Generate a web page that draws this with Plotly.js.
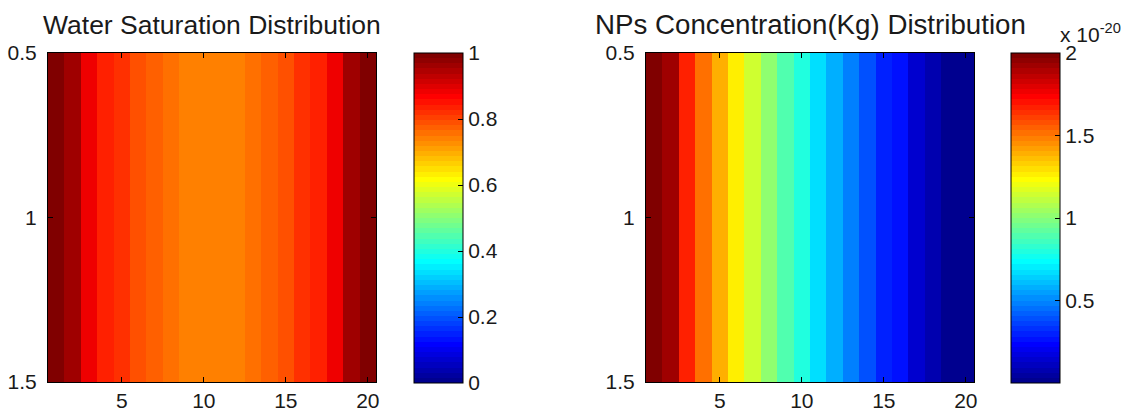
<!DOCTYPE html>
<html>
<head>
<meta charset="utf-8">
<script src="https://cdn.plot.ly/plotly-3.0.1.min.js"></script>
<style>html,body{margin:0;padding:0;background:#fff;}#chart{width:1138px;height:417px;}</style>
</head>
<body>
<div id="chart"></div>
<script>
// ---- data ----
var columns = [1,2,3,4,5,6,7,8,9,10,11,12,13,14,15,16,17,18,19,20];
var rows = [1];
var waterSaturation = [1.0, 0.96, 0.88, 0.835, 0.815, 0.79, 0.775, 0.76, 0.745, 0.745, 0.745, 0.745, 0.76, 0.775, 0.79, 0.815, 0.835, 0.88, 0.96, 1.0];
// NPs concentration in units of 1e-20 kg
var npsConcentration = [2.0, 1.92, 1.67, 1.53, 1.39, 1.265, 1.14, 1.016, 0.89, 0.797, 0.67, 0.58, 0.484, 0.39, 0.31, 0.25, 0.14, 0.078, 0.03, 0.005];
var xTicks = [5, 10, 15, 20];
var yTicks = [0.5, 1, 1.5];
var wsTicks = [0, 0.2, 0.4, 0.6, 0.8, 1];
var npTicks = [0.5, 1, 1.5, 2];
var titles = ['Water Saturation Distribution', 'NPs Concentration(Kg) Distribution'];
var exponentLabel = 'x 10<sup>-20</sup>';

// ---- MATLAB jet(64) colormap, discrete ----
function jet64() {
  var n = 64, m = 16, u = [];
  for (var i = 1; i <= m; i++) u.push(i / m);
  for (var i = 0; i < m - 1; i++) u.push(1);
  for (var i = m; i >= 1; i--) u.push(i / m);
  var g0 = 8, r = [], g = [], b = [];
  for (var k = 0; k < n; k++) { r.push(0); g.push(0); b.push(0); }
  for (var k = 0; k < u.length; k++) {
    var gi = g0 + k, ri = gi + m, bi = gi - m;
    if (gi >= 0 && gi < n) g[gi] = u[k];
    if (ri >= 0 && ri < n) r[ri] = u[k];
    if (bi >= 0 && bi < n) b[bi] = u[k];
  }
  var cs = [];
  for (var k = 0; k < n; k++) {
    var c = 'rgb(' + Math.round(r[k] * 255) + ',' + Math.round(g[k] * 255) + ',' + Math.round(b[k] * 255) + ')';
    cs.push([k / n, c]);
    cs.push([(k + 1) / n, c]);
  }
  return cs;
}
var jet = jet64();

var FONT = 'Liberation Sans, Arial, Helvetica, sans-serif';
var TXT = '#1a1a1a';
var W = 1138, H = 417;
function px(x) { return x / W; }
function py(y) { return 1 - y / H; }

var cbCommon = {
  thickness: 49, thicknessmode: 'pixels',
  len: (383 - 53) / H, lenmode: 'fraction',
  y: py(383), yanchor: 'bottom',
  xanchor: 'left', xpad: 0, ypad: 0,
  outlinewidth: 1, outlinecolor: '#000',
  ticks: 'inside', ticklen: 5, tickcolor: '#000',
  tickfont: {family: FONT, size: 21, color: TXT}
};

var trace1 = {
  type: 'heatmap', x: columns, y: rows, z: [waterSaturation],
  colorscale: jet, zmin: 0, zmax: 1, xaxis: 'x', yaxis: 'y',
  hoverinfo: 'z',
  colorbar: Object.assign({}, cbCommon, {x: px(414), tickvals: wsTicks, ticktext: wsTicks.map(String)})
};
var trace2 = {
  type: 'heatmap', x: columns, y: rows, z: [npsConcentration],
  colorscale: jet, zmin: 0, zmax: 2, xaxis: 'x2', yaxis: 'y2',
  hoverinfo: 'z',
  colorbar: Object.assign({}, cbCommon, {x: px(1011), tickvals: npTicks, ticktext: npTicks.map(String)})
};

function xax(dom, anchor) {
  return {
    domain: dom, anchor: anchor, range: [0.5, 20.5], tickvals: xTicks, ticktext: xTicks.map(String),
    ticks: 'inside', ticklen: 5, tickcolor: '#000', showline: true, linecolor: '#000', linewidth: 1,
    mirror: 'ticks', showgrid: false, zeroline: false, ticklabelstandoff: 0,
    tickfont: {family: FONT, size: 21, color: TXT}
  };
}
function yax(anchor) {
  return {
    domain: [py(382), py(53)], anchor: anchor, range: [1.5, 0.5], tickvals: yTicks, ticktext: yTicks.map(String),
    ticks: 'inside', ticklen: 5, tickcolor: '#000', showline: true, linecolor: '#000', linewidth: 1,
    mirror: 'ticks', showgrid: false, zeroline: false, ticklabelstandoff: 6,
    tickfont: {family: FONT, size: 21, color: TXT}
  };
}

var dom1 = [px(48), px(376)], dom2 = [px(646), px(974)];
var layout = {
  width: W, height: H,
  margin: {l: 0, r: 0, t: 0, b: 0},
  paper_bgcolor: '#fff', plot_bgcolor: '#fff',
  showlegend: false,
  xaxis: xax(dom1, 'y'), yaxis: yax('x'),
  xaxis2: xax(dom2, 'y2'), yaxis2: yax('x2'),
  annotations: [
    {text: titles[0], xref: 'paper', yref: 'paper', x: (dom1[0] + dom1[1]) / 2, y: py(25), xanchor: 'center', yanchor: 'middle', showarrow: false, font: {family: FONT, size: 26.5, color: TXT}},
    {text: titles[1], xref: 'paper', yref: 'paper', x: (dom2[0] + dom2[1]) / 2, y: py(25), xanchor: 'center', yanchor: 'middle', showarrow: false, font: {family: FONT, size: 27.7, color: TXT}},
    {text: exponentLabel, xref: 'paper', yref: 'paper', x: px(1058), y: py(33), xanchor: 'left', yanchor: 'middle', showarrow: false, font: {family: FONT, size: 21, color: TXT}}
  ]
};

Plotly.newPlot('chart', [trace1, trace2], layout, {displayModeBar: false, staticPlot: true});
</script>
</body>
</html>
